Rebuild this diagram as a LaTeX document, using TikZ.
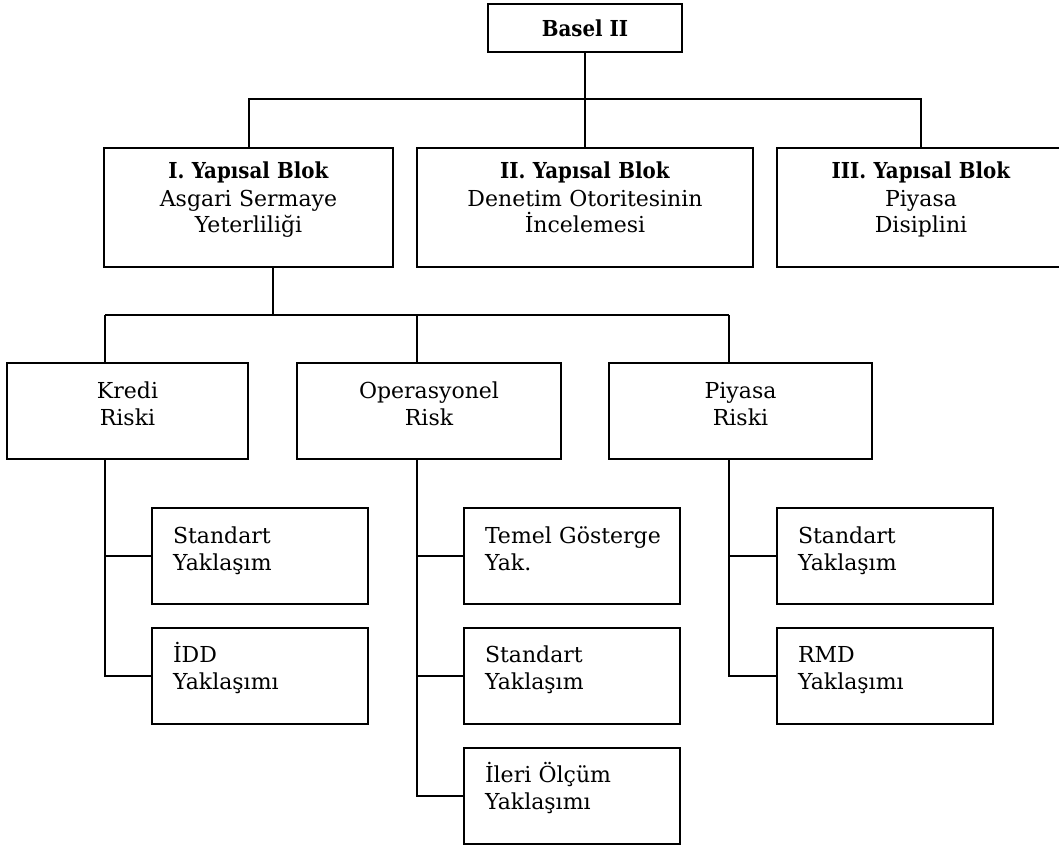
\documentclass[tikz,border=0pt]{standalone}
\usepackage{fontspec}
\setmainfont{DejaVu Serif}[BoldFont={DejaVu Serif Condensed Bold}]
\begin{document}
\begin{tikzpicture}[
   x=0.5pt, y=-0.5pt,
   font=\fontsize{11pt}{13.5pt}\selectfont,
   box/.style={draw, line width=1pt, inner xsep=0pt, inner ysep=0pt},
   blok/.style={box, align=center, text height=15.5pt, text depth=44pt},
   risk/.style={box, align=center, text height=17.5pt, text depth=30.5pt},
   yak/.style={box, align=left, inner xsep=10.5pt, text width=87pt,
      text height=17.5pt, text depth=30.5pt},
   conn/.style={-, line width=1pt}
]
\useasboundingbox (0,0) rectangle (1059,845);
\clip (0,0) rectangle (1059,845);

% Basel II ve yapisal bloklar
\node[box, minimum width=97pt, minimum height=24pt] (basel) at (585,28) {\textbf{Basel II}};
\node[blok, text width=144.5pt] (blok1) at (248.5,207.5)
   {\textbf{I. Yapısal Blok}\\Asgari Sermaye\\Yeterliliği};
\node[blok, text width=168pt] (blok2) at (585,207.5)
   {\textbf{II. Yapısal Blok}\\Denetim Otoritesinin\\İncelemesi};
\node[blok, text width=144pt] (blok3) at (921,207.5)
   {\textbf{III. Yapısal Blok}\\Piyasa\\Disiplini};

\coordinate (bus1) at (585,99);
\draw[conn] (basel.south) -- (bus1);
\draw[conn] (blok1.north) |- (bus1) -| (blok3.north);
\draw[conn] (bus1) -- (blok2.north);

% Risk turleri
\node[risk, text width=120.5pt] (kredi) at (127.5,411) {Kredi\\Riski};
\node[risk, text width=132pt] (operasyonel) at (429,411) {Operasyonel\\Risk};
\node[risk, text width=131.5pt] (piyasa) at (740.5,411) {Piyasa\\Riski};

\coordinate (bus2) at (273,315);
\coordinate (k) at (105,315);
\coordinate (o) at (417,315);
\coordinate (p) at (729,315);
\draw[conn] (blok1.south -| bus2) -- (bus2);
\draw[conn] (k) -- (p);
\draw[conn] (k) -- (kredi.north -| k);
\draw[conn] (o) -- (operasyonel.north -| o);
\draw[conn] (p) -- (piyasa.north -| p);

% Yaklasimlar
\node[yak] (k1) at (260,556) {Standart\\Yaklaşım};
\node[yak] (k2) at (260,675.5) {İDD\\Yaklaşımı};
\node[yak] (o1) at (572,556) {Temel~Gösterge\\Yak.};
\node[yak] (o2) at (572,675.5) {Standart\\Yaklaşım};
\node[yak] (o3) at (572,795.5) {İleri Ölçüm\\Yaklaşımı};
\node[yak] (p1) at (885,556) {Standart\\Yaklaşım};
\node[yak] (p2) at (885,675.5) {RMD\\Yaklaşımı};

\draw[conn] (kredi.south -| k) |- (k1.west);
\draw[conn] (kredi.south -| k) |- (k2.west);
\draw[conn] (operasyonel.south -| o) |- (o1.west);
\draw[conn] (operasyonel.south -| o) |- (o2.west);
\draw[conn] (operasyonel.south -| o) |- (o3.west);
\draw[conn] (piyasa.south -| p) |- (p1.west);
\draw[conn] (piyasa.south -| p) |- (p2.west);

\end{tikzpicture}
\end{document}
